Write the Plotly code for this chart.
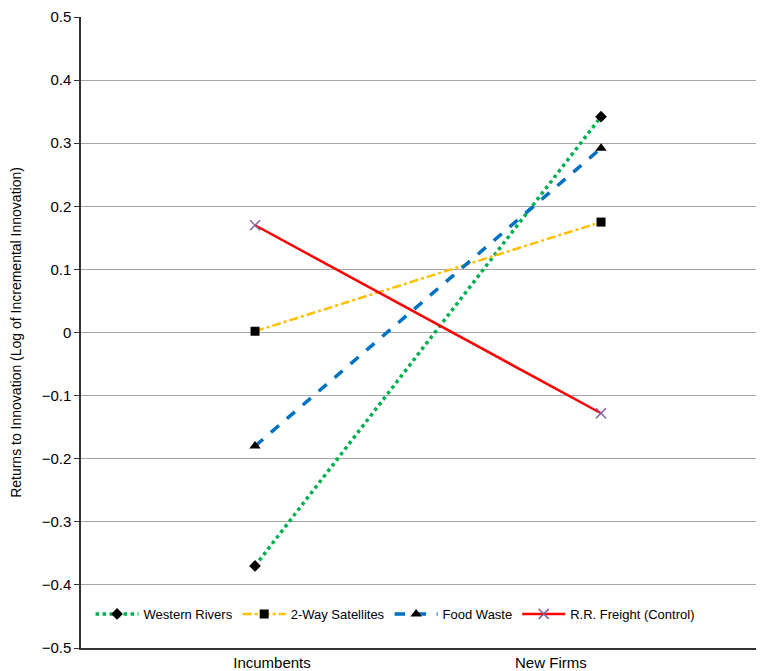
import plotly.graph_objects as go

categories = ["Incumbents", "New Firms"]
western_rivers = [-0.370, 0.342]
two_way_satellites = [0.002, 0.175]
food_waste = [-0.180, 0.292]
rr_freight = [0.170, -0.128]
y_ticks = [0.5, 0.4, 0.3, 0.2, 0.1, 0, -0.1, -0.2, -0.3, -0.4, -0.5]
y_tick_labels = ["0.5", "0.4", "0.3", "0.2", "0.1", "0", "\u22120.1", "\u22120.2", "\u22120.3", "\u22120.4", "\u22120.5"]

# category index positions (data) and where the category labels sit on the axis
x_pos = list(range(len(categories)))
label_pos = [0.049, 0.855]

fig = go.Figure()
fig.add_trace(go.Scatter(x=x_pos, y=western_rivers, name="Western Rivers", mode="lines+markers",
                         line=dict(color="#00B050", width=3.5, dash="dot"),
                         marker=dict(symbol="diamond", color="black", size=9)))
fig.add_trace(go.Scatter(x=x_pos, y=two_way_satellites, name="2-Way Satellites", mode="lines+markers",
                         line=dict(color="#FFC000", width=2.5, dash="dashdot"),
                         marker=dict(symbol="square", color="black", size=9)))
fig.add_trace(go.Scatter(x=x_pos, y=food_waste, name="Food Waste", mode="lines+markers",
                         line=dict(color="#0070C0", width=3.5, dash="dash"),
                         marker=dict(symbol="triangle-up", color="black", size=10)))
fig.add_trace(go.Scatter(x=x_pos, y=rr_freight, name="R.R. Freight (Control)", mode="lines+markers",
                         line=dict(color="#FF0000", width=2.5),
                         marker=dict(symbol="x-thin", color="#8064A2", size=10,
                                     line=dict(color="#8064A2", width=1.5))))

# page body has an 8px margin; figure sized so the plot area lands at x 81..764, y 17..648
fig.update_layout(
    width=756, height=663,
    margin=dict(l=73, r=0, t=9, b=23, autoexpand=False),
    paper_bgcolor="white", plot_bgcolor="white",
    font=dict(family="Liberation Sans, Arial, sans-serif", color="black", size=15),
    showlegend=True,
    legend=dict(orientation="h", x=0.014, y=0.054, xanchor="left", yanchor="middle",
                bgcolor="white", font=dict(size=13), tracegroupgap=0, itemwidth=43),
)
fig.update_xaxes(range=[-0.503, 1.471], tickvals=label_pos, ticktext=categories,
                 showgrid=False, zeroline=False, automargin=False,
                 showline=True, linecolor="#333333", linewidth=1.5, ticks="",
                 tickfont=dict(size=15))
fig.update_yaxes(range=[-0.5, 0.5], tickvals=y_ticks, ticktext=y_tick_labels, automargin=False,
                 showgrid=True, gridcolor="#A6A6A6", gridwidth=1,
                 showline=True, linecolor="#333333", linewidth=1.5,
                 ticks="outside", ticklen=5, tickcolor="#333333", zeroline=False,
                 tickfont=dict(size=15),
                 title=dict(text="Returns to Innovation (Log of Incremental Innovation)",
                            font=dict(size=14), standoff=17))
fig.write_html("out.html")
